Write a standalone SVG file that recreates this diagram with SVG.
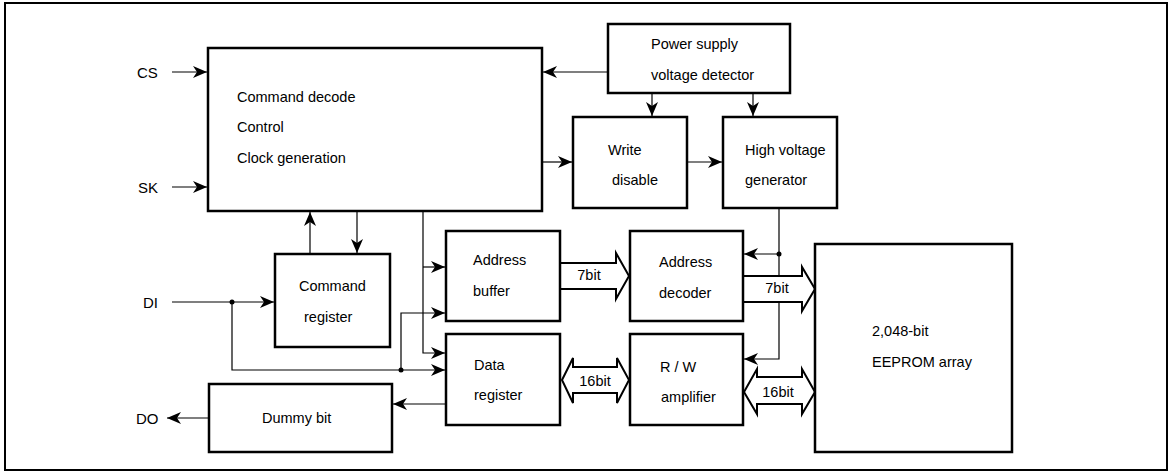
<svg xmlns="http://www.w3.org/2000/svg" width="1173" height="473" viewBox="0 0 1173 473">
<style>
.box{fill:#fff;stroke:#000;stroke-width:2.5}
.t{font-family:"Liberation Sans",Arial,sans-serif;font-size:14.5px;fill:#000}
.pin{font-family:"Liberation Sans",Arial,sans-serif;font-size:15px;fill:#000}
.c{fill:none;stroke:#000;stroke-width:1.2}
.bus{fill:#fff;stroke:#000;stroke-width:2;stroke-linejoin:miter}
.m{text-anchor:middle}
</style>
<defs>
<marker id="ah" markerUnits="userSpaceOnUse" viewBox="-14 -7 14 14" refX="0" refY="0" markerWidth="14" markerHeight="14" orient="auto">
<path d="M0,0 L-14,-6 L-10,0 L-14,6 Z" fill="#000"/>
</marker>
</defs>
<rect x="5" y="3" width="1162" height="467" fill="#fff" stroke="#000" stroke-width="2"/>

<g id="connectors">
<path class="c" d="M172,72 H207" marker-end="url(#ah)"/>
<path class="c" d="M172,187 H207" marker-end="url(#ah)"/>
<path class="c" d="M608,72 H543" marker-end="url(#ah)"/>
<path class="c" d="M652,93 V116" marker-end="url(#ah)"/>
<path class="c" d="M753,93 V116" marker-end="url(#ah)"/>
<path class="c" d="M542,162 H572" marker-end="url(#ah)"/>
<path class="c" d="M687,162 H722" marker-end="url(#ah)"/>
<path class="c" d="M310,254 V212" marker-end="url(#ah)"/>
<path class="c" d="M357,211 V253" marker-end="url(#ah)"/>
<path class="c" d="M423,211 V353 H445" marker-end="url(#ah)"/>
<path class="c" d="M423,267 H445" marker-end="url(#ah)"/>
<path class="c" d="M172,302 H274" marker-end="url(#ah)"/>
<path class="c" d="M232,302 V370 H445" marker-end="url(#ah)"/>
<path class="c" d="M401,370 V313 H445" marker-end="url(#ah)"/>
<circle cx="232" cy="302" r="2.5" fill="#000"/>
<circle cx="401" cy="370" r="2.5" fill="#000"/>
<path class="c" d="M446,404 H393" marker-end="url(#ah)"/>
<path class="c" d="M209,418 H167" marker-end="url(#ah)"/>
<path class="c" d="M779,208 V359 H744" marker-end="url(#ah)"/>
<path class="c" d="M779,254 H744" marker-end="url(#ah)"/>
<circle cx="779" cy="254" r="2.5" fill="#000"/>
<path class="bus" d="M560,263 L616,263 L616,253 L629,276 L616,299 L616,289 L560,289"/>
<path class="bus" d="M743,276 L802,276 L802,267 L815,289 L802,311 L802,302 L743,302"/>
<path class="bus" d="M562,380 L573,358 L573,367 L617,367 L617,358 L629,380 L617,403 L617,393 L573,393 L573,403 Z"/>
<path class="bus" d="M744,392 L757,369 L757,377 L802,377 L802,369 L815,392 L802,414 L802,404 L757,404 L757,414 Z"/>
<text class="t m" x="589" y="280">7bit</text>
<text class="t m" x="777" y="293">7bit</text>
<text class="t m" x="595" y="386">16bit</text>
<text class="t m" x="778" y="397">16bit</text>
</g>

<g id="pins">
<text class="pin" x="137" y="77.5">CS</text>
<text class="pin" x="138" y="192.5">SK</text>
<text class="pin" x="143" y="308">DI</text>
<text class="pin" x="136" y="423.5">DO</text>
</g>

<g id="control">
<rect class="box" x="208" y="48" width="334" height="163"/>
<text class="t" x="237" y="102">Command decode</text>
<text class="t" x="237" y="132">Control</text>
<text class="t" x="237" y="163">Clock generation</text>
</g>
<g id="power">
<rect class="box" x="608" y="24" width="182" height="69"/>
<text class="t" x="651" y="49">Power supply</text>
<text class="t" x="651" y="80">voltage detector</text>
</g>
<g id="write-disable">
<rect class="box" x="573" y="117" width="114" height="91"/>
<text class="t" x="608" y="155">Write</text>
<text class="t" x="612" y="185">disable</text>
</g>
<g id="high-voltage">
<rect class="box" x="723" y="117" width="114" height="91"/>
<text class="t" x="745" y="155">High voltage</text>
<text class="t" x="745" y="185">generator</text>
</g>
<g id="command-register">
<rect class="box" x="275" y="254" width="115" height="93"/>
<text class="t" x="299" y="291">Command</text>
<text class="t" x="304" y="322">register</text>
</g>
<g id="address-buffer">
<rect class="box" x="446" y="231" width="114" height="90"/>
<text class="t" x="473" y="265">Address</text>
<text class="t" x="473" y="296">buffer</text>
</g>
<g id="address-decoder">
<rect class="box" x="630" y="231" width="113" height="90"/>
<text class="t" x="659" y="267">Address</text>
<text class="t" x="659" y="298">decoder</text>
</g>
<g id="data-register">
<rect class="box" x="446" y="334" width="114" height="91"/>
<text class="t" x="474" y="370">Data</text>
<text class="t" x="474" y="400">register</text>
</g>
<g id="rw-amplifier">
<rect class="box" x="630" y="334" width="113" height="91"/>
<text class="t" x="660" y="372">R / W</text>
<text class="t" x="661" y="402">amplifier</text>
</g>
<g id="eeprom">
<rect class="box" x="815" y="244" width="197" height="208"/>
<text class="t" x="872" y="336">2,048-bit</text>
<text class="t" x="872" y="367">EEPROM array</text>
</g>
<g id="dummy-bit">
<rect class="box" x="209" y="384" width="183" height="68"/>
<text class="t" x="262" y="423">Dummy bit</text>
</g>
</svg>
